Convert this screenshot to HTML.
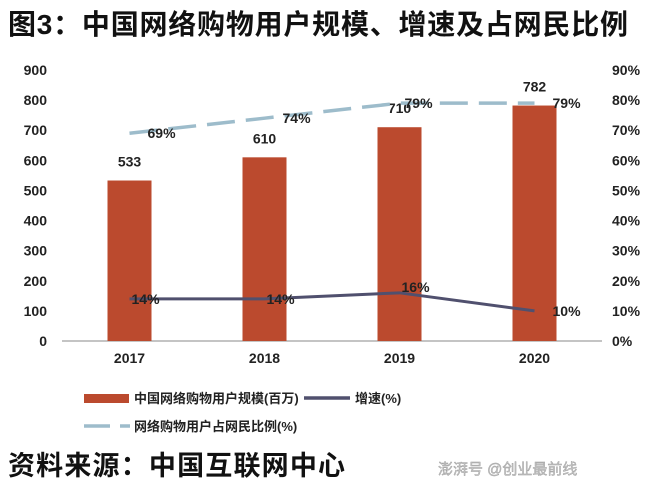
<!DOCTYPE html>
<html><head><meta charset="utf-8"><style>
body{margin:0;background:#fff;width:660px;height:484px;overflow:hidden;font-family:"Liberation Sans","Noto Sans CJK SC",sans-serif}
svg text{font-family:"Liberation Sans","Noto Sans CJK SC",sans-serif}
</style></head><body>
<svg id="c" width="660" height="484">
<text x="8" y="34" font-size="28" font-weight="bold" fill="#111" textLength="620">图3：中国网络购物用户规模、增速及占网民比例</text>
<g id="axes"></g><g id="marks"></g>
<g>
<rect x="84" y="394" width="45" height="9" fill="#bb4a2e"/>
<text x="134" y="403" font-size="13" font-weight="bold" fill="#222">中国网络购物用户规模(百万)</text>
<line x1="304" y1="398" x2="350" y2="398" stroke="#50506e" stroke-width="3.5"/>
<text x="355" y="403" font-size="13" font-weight="bold" fill="#222">增速(%)</text>
<line x1="84" y1="426" x2="130" y2="426" stroke="#9dbccb" stroke-width="3.5" stroke-dasharray="26,10"/>
<text x="134" y="431" font-size="13" font-weight="bold" fill="#222">网络购物用户占网民比例(%)</text>
</g>
<text x="8" y="475" font-size="27" font-weight="bold" fill="#111" textLength="337">资料来源：中国互联网中心</text>
<text x="438" y="474" font-size="15" fill="#c8c8c8" stroke="#999" stroke-width="0.4">澎湃号 @创业最前线</text>
</svg>
<script>
const years=["2017","2018","2019","2020"];
const users=[533,610,710,782];
const growth=[14,14,16,10];
const share=[69,74,79,79];
const leftTicks=[0,100,200,300,400,500,600,700,800,900];
const rightTicks=[0,10,20,30,40,50,60,70,80,90];
const NS="http://www.w3.org/2000/svg";
const y0=341,y1=70,x0=62,x1=602;
const yL=v=>y0-(v/900)*(y0-y1);
const yR=v=>y0-(v/90)*(y0-y1);
const xC=i=>x0+(i+0.5)*(x1-x0)/years.length;
function mk(t,a,p){const e=document.createElementNS(NS,t);for(const k in a)e.setAttribute(k,a[k]);p.appendChild(e);return e;}
const ax=document.getElementById('axes'),mg=document.getElementById('marks');
let base=mk('line',{x1:x0,y1:y0,x2:x1,y2:y0,stroke:'#888','stroke-width':1},ax);


leftTicks.forEach(v=>{const t=mk('text',{x:47,y:yL(v)+5,'text-anchor':'end','font-size':14,'font-weight':'bold',fill:'#222'},ax);t.textContent=v;

});
rightTicks.forEach(v=>{const t=mk('text',{x:612,y:yR(v)+5,'font-size':14,'font-weight':'bold',fill:'#222'},ax);t.textContent=v+'%';

});
years.forEach((y,i)=>{const t=mk('text',{x:xC(i),y:363,'text-anchor':'middle','font-size':14,'font-weight':'bold',fill:'#222'},ax);t.textContent=y;

});
users.forEach((v,i)=>{const r=mk('rect',{x:xC(i)-22,y:yL(v),width:44,height:y0-yL(v),fill:'#bb4a2e'},mg);


const t=mk('text',{x:xC(i),y:yL(v)-14,'text-anchor':'middle','font-size':14,'font-weight':'bold',fill:'#222'},mg);t.textContent=v;

});
const sl=mk('polyline',{points:share.map((v,i)=>xC(i)+','+yR(v)).join(' '),fill:'none',stroke:'#9dbccb','stroke-width':3.5,'stroke-dasharray':'28,11'},mg);


const gl=mk('polyline',{points:growth.map((v,i)=>xC(i)+','+yR(v)).join(' '),fill:'none',stroke:'#50506e','stroke-width':3},mg);


share.forEach((v,i)=>{const t=mk('text',{x:xC(i)+(i==2?5:18),y:yR(v)+5,'font-size':14,'font-weight':'bold',fill:'#222'},mg);t.textContent=v+'%';

});
growth.forEach((v,i)=>{const t=mk('text',{x:xC(i)+(i==3?18:2),y:yR(v)+5-(i==2?6:0),'font-size':14,'font-weight':'bold',fill:'#222'},mg);t.textContent=v+'%';

});
</script>
</body></html>
